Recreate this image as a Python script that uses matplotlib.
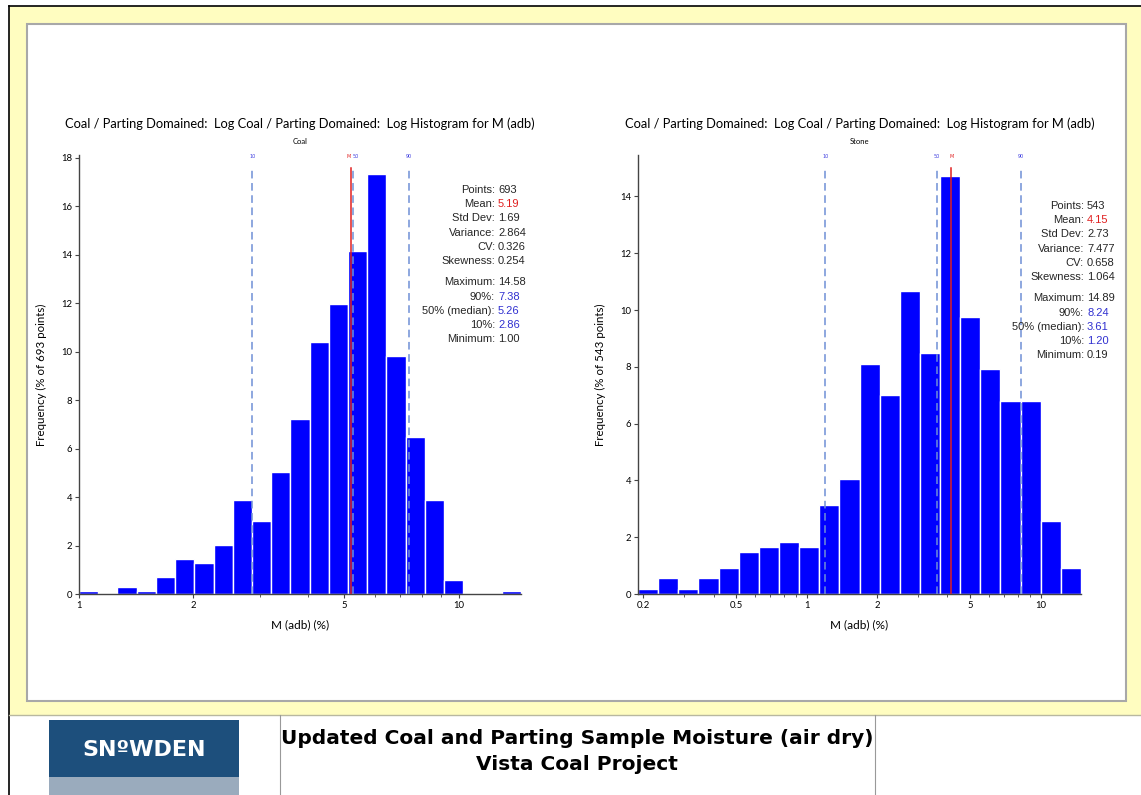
import numpy as np
import matplotlib
matplotlib.use("Agg")
import matplotlib.pyplot as plt
from matplotlib.patches import Rectangle
from matplotlib.lines import Line2D
from matplotlib.ticker import FixedLocator, NullFormatter

# ---------------- data ----------------
coal_min, coal_max = 1.00, 14.58
coal_freq = [0.14, 0.0, 0.29, 0.14, 0.72, 1.44, 1.30, 2.02, 3.90, 3.03, 5.05, 7.22,
             10.39, 11.98, 14.14, 17.32, 9.81, 6.49, 3.90, 0.58, 0.0, 0.0, 0.14]
coal_stats_labels = ["Points", "Mean", "Std Dev", "Variance", "CV", "Skewness",
                     "Maximum", "90%", "50% (median)", "10%", "Minimum"]
coal_stats_values = ["693", "5.19", "1.69", "2.864", "0.326", "0.254",
                     "14.58", "7.38", "5.26", "2.86", "1.00"]
coal_lines = {"p10": 2.86, "p50": 5.26, "mean": 5.19, "p90": 7.38}

stone_min, stone_max = 0.19, 14.89
stone_freq = [0.18, 0.55, 0.18, 0.55, 0.92, 1.47, 1.66, 1.84, 1.66, 3.13, 4.05,
              8.10, 7.00, 10.68, 8.47, 14.73, 9.76, 7.92, 6.81, 6.81, 2.58, 0.92]
stone_stats_values = ["543", "4.15", "2.73", "7.477", "0.658", "1.064",
                      "14.89", "8.24", "3.61", "1.20", "0.19"]
stone_lines = {"p10": 1.20, "p50": 3.61, "mean": 4.15, "p90": 8.24}

x_ticks_coal = [1, 2, 5, 10]
x_ticks_stone = [0.2, 0.5, 1, 2, 5, 10]

W, H = 1141, 795
fig = plt.figure(figsize=(W / 100, H / 100), dpi=100)
fig.patch.set_facecolor("white")

def fx(px):
    return px / W

def fy(py):
    return 1 - py / H

def rect(x0, y0, x1, y1, **kw):
    r = Rectangle((fx(x0), fy(y1)), fx(x1) - fx(x0), fy(y0) - fy(y1),
                  transform=fig.transFigure, **kw)
    fig.add_artist(r)

def hline(x0, x1, y, **kw):
    fig.add_artist(Line2D([fx(x0), fx(x1)], [fy(y), fy(y)], transform=fig.transFigure, **kw))

def vline(x, y0, y1, **kw):
    fig.add_artist(Line2D([fx(x), fx(x)], [fy(y0), fy(y1)], transform=fig.transFigure, **kw))

# background frame
rect(9, 6, W, 715, facecolor="#fffdc0", edgecolor="none", zorder=-10)
rect(27, 24, 1126, 701, facecolor="white", edgecolor="#a8a8a8", linewidth=1.5, zorder=-9)
hline(9, W, 6, color="black", linewidth=1.2)
vline(9, 6, H, color="black", linewidth=1.2)
hline(9, W, 715, color="#b8b8a0", linewidth=1)
vline(280, 715, H, color="#999999", linewidth=0.8)
vline(875, 715, H, color="#999999", linewidth=0.8)
# logo
rect(49, 720, 239, 777, facecolor="#1d4f7c", edgecolor="none")
rect(49, 777, 239, H, facecolor="#9aabbd", edgecolor="none")
fig.text(fx(144), fy(750), "SN\u00baWDEN", color="white", fontsize=16, fontweight="bold",
         ha="center", va="center", family=["DejaVu Sans"])
fig.text(fx(577), fy(738), "Updated Coal and Parting Sample Moisture (air dry)",
         fontsize=14.5, fontweight="bold", ha="center", va="center",
         family=["Liberation Sans Narrow", "DejaVu Sans"])
fig.text(fx(577), fy(764), "Vista Coal Project",
         fontsize=14.5, fontweight="bold", ha="center", va="center",
         family=["Liberation Sans Narrow", "DejaVu Sans"])

title = "Coal / Parting Domained:  Log Coal / Parting Domained:  Log Histogram for M (adb)"
tfont = ["Lato", "DejaVu Sans"]


def panel(x0, x1, vmin, vmax, freq, ylim, yticks, xticks, sub, npts, lines,
          values, stat_x, stat_y0, title_x):
    ax = fig.add_axes([fx(x0), fy(594), fx(x1) - fx(x0), fy(155) - fy(594)])
    edges = np.logspace(np.log10(vmin), np.log10(vmax), len(freq) + 1)
    ax.bar(edges[:-1], freq, width=np.diff(edges), align="edge", color="#0000ff",
           edgecolor="white", linewidth=1.0, zorder=2)
    ax.set_xscale("log")
    ax.set_xlim(vmin, vmax)
    ax.set_ylim(0, ylim)
    for s in ("top", "right"):
        ax.spines[s].set_visible(False)
    for s in ("left", "bottom"):
        ax.spines[s].set_color("#444444")
        ax.spines[s].set_linewidth(1.0)
    ax.set_yticks(yticks)
    ax.set_yticklabels([str(t) for t in yticks], fontsize=6.8, family=tfont)
    ax.xaxis.set_major_locator(FixedLocator(xticks))
    ax.set_xticklabels([("%g" % t) for t in xticks], fontsize=6.8, family=tfont)
    minors = [m * 10.0 ** e for e in (-1, 0, 1) for m in range(2, 10)]
    minors = [m for m in minors if vmin <= m <= vmax and m not in xticks]
    ax.xaxis.set_minor_locator(FixedLocator(minors))
    ax.xaxis.set_minor_formatter(NullFormatter())
    ax.tick_params(axis="both", which="major", length=3, width=0.8, color="#444444",
                   pad=2)
    ax.tick_params(axis="x", which="minor", length=2, width=0.6, color="#444444")
    ax.set_xlabel("M (adb) (%)", fontsize=8.5, family=tfont, labelpad=7)
    ax.set_ylabel("Frequency (%% of %d points)" % npts, fontsize=8.3, family=tfont,
                  labelpad=10)
    # reference lines
    ytop = ylim * (594 - 168) / (594 - 155)
    ylab = ylim * (594 - 157) / (594 - 155)
    close = abs(np.log10(lines["mean"]) - np.log10(lines["p50"])) < 0.03
    for key, lab in (("p10", "10"), ("p50", "50"), ("p90", "90")):
        ax.plot([lines[key]] * 2, [0, ytop], color="#6f8fd6", linewidth=1.1,
                linestyle=(0, (5, 3)), zorder=3)
        ha = "center"
        if key == "p50" and close:
            ha = "left" if lines["p50"] >= lines["mean"] else "right"
        ax.text(lines[key], ylab, lab, color="#4040e0", fontsize=3.5, ha=ha,
                va="center")
    ax.plot([lines["mean"]] * 2, [0, ytop], color="#e02020", linewidth=1.1, zorder=4)
    mha = "center"
    if close:
        mha = "right" if lines["p50"] >= lines["mean"] else "left"
    ax.text(lines["mean"], ylab, "M", color="#e02020", fontsize=3.5, ha=mha,
            va="center")
    fig.text(fx(title_x), fy(124), title, fontsize=9.3, ha="center", va="center",
             family=tfont)
    fig.text(fx((x0 + x1) / 2), fy(142), sub, fontsize=5.5, ha="center", va="center",
             family=tfont)
    # stats block
    rows = [0, 1, 2, 3, 4, 5, 6.5, 7.5, 8.5, 9.5, 10.5]
    for i, (lab, val) in enumerate(zip(coal_stats_labels, values)):
        yy = stat_y0 + rows[i] * 14.2
        color = "#262626"
        if i == 1:
            color = "#e02020"
        elif i in (7, 8, 9):
            color = "#3030d0"
        fig.text(fx(stat_x), fy(yy), lab + ":", fontsize=8, ha="right", va="center",
                 family=["Liberation Sans"], color="#262626")
        fig.text(fx(stat_x + 3), fy(yy), val, fontsize=8, ha="left", va="center",
                 family=["Liberation Sans"], color=color)
    return ax


panel(79, 521, coal_min, coal_max, coal_freq, 18.12, list(range(0, 19, 2)),
      x_ticks_coal, "Coal", 693, coal_lines, coal_stats_values, 495, 190, 300)
panel(638, 1081, stone_min, stone_max, stone_freq, 15.46, list(range(0, 15, 2)),
      x_ticks_stone, "Stone", 543, stone_lines, stone_stats_values, 1084, 206, 860)

fig.savefig("out.png", dpi=100)
